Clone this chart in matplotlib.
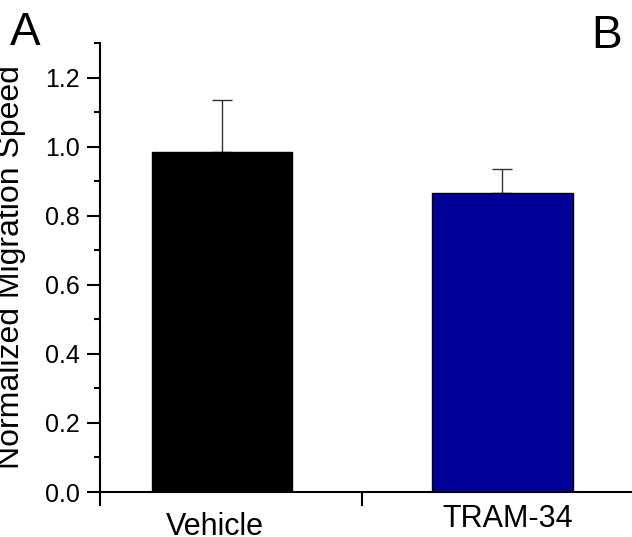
import matplotlib
matplotlib.use('Agg')
import matplotlib.pyplot as plt
from matplotlib.ticker import MultipleLocator, FixedLocator

plt.rcParams['font.family'] = ['Liberation Sans', 'DejaVu Sans']

# data
groups = ['Vehicle', 'TRAM-34']
positions = [1, 2]
speed = [0.985, 0.866]
speed_err = [0.15, 0.068]
bar_colors = ['#000000', '#000099']

fig = plt.figure(figsize=(6.32, 5.37), dpi=100)
ax = fig.add_axes([100 / 632, 45 / 537, 532 / 632, 449 / 537])

ax.bar(positions, speed, width=0.5, color=bar_colors,
       edgecolor='black', linewidth=1.0, zorder=2)
ax.errorbar(positions, speed, yerr=[[0] * len(speed), speed_err],
            fmt='none', ecolor='#333333', elinewidth=1.0,
            capsize=7, capthick=1.0, zorder=1)

ax.set_xlim(0.565, 2.462)
ax.set_ylim(0, 1.3)

# spines: only left and bottom, like Origin output
for side in ['top', 'right']:
    ax.spines[side].set_visible(False)
for side in ['left', 'bottom']:
    ax.spines[side].set_linewidth(1.5)

ax.yaxis.set_major_locator(MultipleLocator(0.2))
ax.yaxis.set_minor_locator(MultipleLocator(0.1))
ax.yaxis.set_major_formatter(matplotlib.ticker.FormatStrFormatter('%.1f'))
ax.tick_params(axis='y', which='major', direction='out', length=9.5,
               width=1.5, labelsize=18, pad=5)
ax.tick_params(axis='y', which='minor', direction='out', length=4.5,
               width=1.5)

# x: separator tick between groups, category labels below
ax.set_xticks([])
ax.xaxis.set_minor_locator(FixedLocator([0.565, 1.5]))
ax.tick_params(axis='x', which='minor', direction='out', length=10,
               width=1.5)

label_offsets = [(-7, -43), (5, -35)]
for x, name, (dx, dy) in zip(positions, groups, label_offsets):
    ax.annotate(name, xy=(x, 0), xycoords=('data', 'axes fraction'),
                xytext=(dx, dy), textcoords='offset pixels',
                ha='center', va='baseline', fontsize=22)

ax.set_ylabel('Normalized Migration Speed', fontsize=23)
ax.yaxis.set_label_coords(-0.139, 0.5)

fig.text(10 / 632, 1 - 45 / 537, 'A', fontsize=33, ha='left', va='baseline')
fig.text(591 / 632, 1 - 48 / 537, 'B', fontsize=33, ha='left', va='baseline')

fig.savefig('out.png', dpi=100)
